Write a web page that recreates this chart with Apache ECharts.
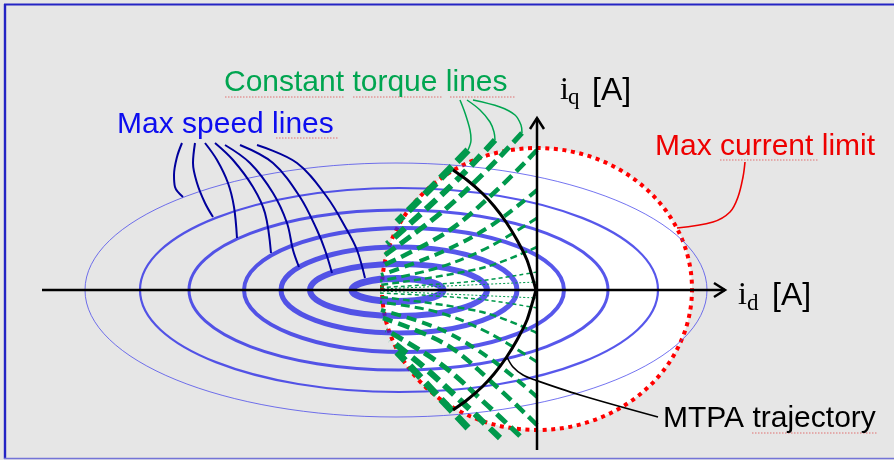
<!DOCTYPE html>
<html>
<head>
<meta charset="utf-8">
<title>Max speed lines, constant torque lines and MTPA trajectory</title>
<script src="https://cdn.jsdelivr.net/npm/echarts@6/dist/echarts.min.js"></script>
<style>
  html, body { margin: 0; padding: 0; background: #e6e6e6; }
  #chart { width: 894px; height: 460px; }
</style>
</head>
<body>
<div id="chart"></div>
<script>
// ---------------------------------------------------------------
// Current-plane diagram: id on the horizontal axis, iq vertical.
// Units are arbitrary current units with the origin at the axis crossing.
// ---------------------------------------------------------------

// Axis extents
const idAxisRange = [-495, 188];
const iqAxisRange = [-160, 172];

// Max speed (voltage-limit) ellipses: centre on the id axis, semi-axes
const speedCentreD = [-141, -138, -138.5, -133, -138, -138.5, -139.5];
const speedRadiusD = [311, 259, 209.5, 160, 118, 88.5, 45.5];
const speedRadiusQ = [127, 102, 80, 62, 43, 26, 11.5];

// Max current limit
const currentCentre = [0, 1];
const currentRadius = [155, 141];

// Constant torque lines, upper half (iq > 0), from the iq side to the limit
const torqueUpper = [
  [[-69, 140], [-100, 108], [-140, 68]],
  [[-42, 150], [-75, 115], [-112, 80], [-150, 46]],
  [[-15, 157], [-50, 120], [-95, 78], [-152, 35]],
  [[0, 140], [-40, 100], [-90, 58], [-155, 24]],
  [[0, 100], [-45, 65], [-95, 38], [-156, 15]],
  [[0, 72], [-50, 42], [-100, 22], [-157, 9]],
  [[0, 43], [-55, 22], [-157, 5]],
  [[0, 18], [-60, 9], [-157, 2.5]],
  [[0, 8], [-157, 1]]
];
// Constant torque lines, lower half (iq < 0)
const torqueLower = [
  [[-69, -138], [-100, -105], [-140, -62]],
  [[-37, -148], [-75, -112], [-112, -78], [-147, -50]],
  [[-17, -146], [-50, -115], [-95, -75], [-151, -40]],
  [[0, -135], [-40, -97], [-90, -55], [-154, -28]],
  [[0, -107], [-45, -70], [-95, -40], [-156, -20]],
  [[0, -72], [-50, -42], [-100, -22], [-157, -12]],
  [[0, -43], [-55, -22], [-157, -7]],
  [[0, -18], [-60, -9], [-157, -3]],
  [[0, -8], [-157, -1]]
];

// MTPA trajectory (two branches meeting on the id axis)
const mtpaUpper = [[-84, 120], [-70, 110], [-55, 97], [-43, 84], [-31, 68], [-20, 50], [-10, 30], [-5, 14], [-1, 0]];
const mtpaLower = [[-1, 0], [-5, -14], [-10, -30], [-20, -50], [-31, -68], [-43, -84], [-55, -97], [-70, -110], [-84, -120]];

// Callout leader lines
const speedLeaders = [
  [[-355, 147], [-360, 133], [-363, 115], [-362, 103], [-354, 93]],
  [[-342, 147], [-344, 127], [-340, 107], [-332, 87], [-324, 73]],
  [[-332, 147], [-320, 130], [-309, 107], [-303, 83], [-300, 52]],
  [[-322, 147], [-304, 130], [-284, 103], [-272, 77], [-266, 37]],
  [[-312, 145], [-287, 127], [-264, 97], [-250, 67], [-244, 40], [-238, 23]],
  [[-297, 145], [-264, 127], [-237, 93], [-220, 60], [-212, 40], [-205, 17]],
  [[-280, 145], [-240, 127], [-210, 93], [-190, 60], [-180, 40], [-172, 12]]
];
const torqueLeaders = [
  [[-77, 190], [-72, 177], [-67, 160], [-66, 150], [-69, 140]],
  [[-70, 190], [-57, 180], [-47, 168], [-43, 158], [-42, 150]],
  [[-64, 190], [-37, 183], [-22, 175], [-16, 165], [-15, 157]]
];
const currentLeader = [[208, 128], [206, 113], [201, 93], [193, 78], [176, 68], [140, 62]];
const mtpaLeader = [[-30, -67], [-24, -77], [-14, -85], [-2, -90], [43, -105], [121, -127]];

// ---------------------------------------------------------------
// Styles
// ---------------------------------------------------------------
const speedWidths = [1, 2.2, 3, 4, 5, 6, 7];
const torqueWidths = [7, 6, 5, 4.5, 4, 3, 2.5, 1.5, 1];
const torqueDashes = [[16, 7], [14, 7], [13, 6], [12, 6], [10, 6], [9, 5], [7, 4], [4, 3], [2, 2]];
const SPEED_BLUE = 'rgba(40, 40, 230, 0.78)';
const TORQUE_GREEN = '#00994c';
const LABEL_FONT = '"Liberation Sans", Arial, sans-serif';

function ellipseRenderer(styleOf) {
  return function (params, api) {
    const c = api.coord([api.value(0), api.value(1)]);
    const s = api.size([api.value(2), api.value(3)]);
    return {
      type: 'ellipse',
      shape: { cx: c[0], cy: c[1], rx: s[0], ry: s[1] },
      style: styleOf(params.dataIndex)
    };
  };
}

function arrowRenderer(params, api) {
  const a = api.coord([api.value(0), api.value(1)]);
  const b = api.coord([api.value(2), api.value(3)]);
  const len = Math.hypot(b[0] - a[0], b[1] - a[1]);
  const ux = (b[0] - a[0]) / len, uy = (b[1] - a[1]) / len;
  const nx = -uy, ny = ux;
  const back = 11, half = 7;
  const style = { stroke: '#000', lineWidth: 2.5, fill: null };
  return {
    type: 'group',
    children: [
      { type: 'line', shape: { x1: a[0], y1: a[1], x2: b[0], y2: b[1] }, style },
      {
        type: 'polyline',
        shape: {
          points: [
            [b[0] - back * ux + half * nx, b[1] - back * uy + half * ny],
            [b[0], b[1]],
            [b[0] - back * ux - half * nx, b[1] - back * uy - half * ny]
          ]
        },
        style
      }
    ]
  };
}

function curve(name, data, color, width, dash, z, smooth) {
  return {
    name, type: 'line', data, z,
    smooth: smooth === undefined ? 0.35 : smooth,
    symbol: 'none', silent: true, clip: false,
    lineStyle: { color, width, type: dash || 'solid', cap: 'butt', join: 'round' }
  };
}

const series = [];

// white interior of the current limit
series.push({
  name: 'current-area', type: 'custom', z: 1, clip: false, silent: true,
  data: [[currentCentre[0], currentCentre[1], currentRadius[0], currentRadius[1]]],
  renderItem: ellipseRenderer(() => ({ fill: '#ffffff', stroke: null }))
});

// red dotted current limit
series.push({
  name: 'current-limit', type: 'custom', z: 2, clip: false, silent: true,
  data: [[currentCentre[0], currentCentre[1], currentRadius[0], currentRadius[1]]],
  renderItem: ellipseRenderer(() => ({
    fill: null, stroke: '#ff0000', lineWidth: 4, lineDash: [4, 4.6], lineCap: 'butt'
  }))
});

// blue max speed ellipses
series.push({
  name: 'max-speed', type: 'custom', z: 3, clip: false, silent: true,
  data: speedCentreD.map((c, i) => [c, 0, speedRadiusD[i], speedRadiusQ[i]]),
  renderItem: ellipseRenderer(i => ({
    fill: null,
    stroke: i === 0 ? 'rgba(70, 70, 235, 0.75)' : SPEED_BLUE,
    lineWidth: speedWidths[i]
  }))
});

// green constant torque lines
torqueUpper.forEach((pts, i) =>
  series.push(curve('torque-up-' + i, pts, TORQUE_GREEN, torqueWidths[i], torqueDashes[i], 4)));
torqueLower.forEach((pts, i) =>
  series.push(curve('torque-down-' + i, pts, TORQUE_GREEN, torqueWidths[i], torqueDashes[i], 4)));

// MTPA trajectory
series.push(curve('mtpa-up', mtpaUpper, '#000000', 3, 'solid', 5, 0.2));
series.push(curve('mtpa-down', mtpaLower, '#000000', 3, 'solid', 5, 0.2));

// callouts
speedLeaders.forEach((pts, i) =>
  series.push(curve('speed-leader-' + i, pts, '#00009c', 2, 'solid', 5)));
torqueLeaders.forEach((pts, i) =>
  series.push(curve('torque-leader-' + i, pts, '#00a550', 1.5, 'solid', 5)));
series.push(curve('current-leader', currentLeader, '#ee0000', 1.6, 'solid', 5));
series.push(curve('mtpa-leader', mtpaLeader, '#000000', 1.6, 'solid', 5));

// id / iq axes with open arrow heads
series.push({
  name: 'axes', type: 'custom', z: 6, clip: false, silent: true,
  data: [
    [idAxisRange[0], 0, idAxisRange[1], 0],
    [0, iqAxisRange[0], 0, iqAxisRange[1]]
  ],
  renderItem: arrowRenderer
});

// ---------------------------------------------------------------
// Text
// ---------------------------------------------------------------
function label(text, x, baseline, fill, size, family) {
  const f = family || LABEL_FONT;
  return {
    type: 'text', x: x, y: baseline - 0.3465 * size, z: 100, silent: true,
    style: {
      text, fill, font: size + 'px ' + f,
      align: 'left', verticalAlign: 'middle',
      textAlign: 'left', textVerticalAlign: 'middle'
    }
  };
}
function squiggle(x1, x2, y) {
  return {
    type: 'line', z: 99, silent: true,
    shape: { x1, y1: y, x2, y2: y },
    style: { stroke: '#e07070', lineWidth: 1, lineDash: [1.5, 1.5] }
  };
}
const SERIF = '"Liberation Serif", "DejaVu Serif", serif';

const graphic = [
  // frame
  { type: 'line', z: 90, silent: true, shape: { x1: 4, y1: 4.5, x2: 894, y2: 4.5 }, style: { stroke: '#2424c4', lineWidth: 2 } },
  { type: 'line', z: 90, silent: true, shape: { x1: 5, y1: 4, x2: 5, y2: 459 }, style: { stroke: '#2424c4', lineWidth: 2.4 } },
  { type: 'line', z: 90, silent: true, shape: { x1: 4, y1: 458.5, x2: 894, y2: 458.5 }, style: { stroke: '#7474d8', lineWidth: 1.4 } },

  label('Max speed lines', 117, 135, '#0d0def', 30),
  label('Constant torque lines', 224, 93, '#00a550', 30),
  label('Max current limit', 655, 157, '#ee0000', 30),
  label('MTPA trajectory', 663, 429, '#000000', 30),

  // iq [A]
  label('i', 560, 102, '#000000', 32, SERIF),
  label('q', 568, 106, '#000000', 23, SERIF),
  label('[A]', 592, 102, '#000000', 32),
  // id [A]
  label('i', 738, 307, '#000000', 32, SERIF),
  label('d', 747, 312, '#000000', 23, SERIF),
  label('[A]', 772, 307, '#000000', 32),

  squiggle(276, 339, 138),
  squiggle(225, 345, 97),
  squiggle(353, 442, 97),
  squiggle(450, 516, 97),
  squiggle(720, 818, 160),
  squiggle(752, 878, 433)
];

const chart = echarts.init(document.getElementById('chart'), null, { renderer: 'canvas' });
chart.setOption({
  animation: false,
  backgroundColor: '#e6e6e6',
  grid: { left: 0, right: 0, top: 0, bottom: 0 },
  xAxis: { type: 'value', min: -537, max: 357, show: false },
  yAxis: { type: 'value', min: -170, max: 290, show: false },
  series,
  graphic
});
</script>
</body>
</html>
